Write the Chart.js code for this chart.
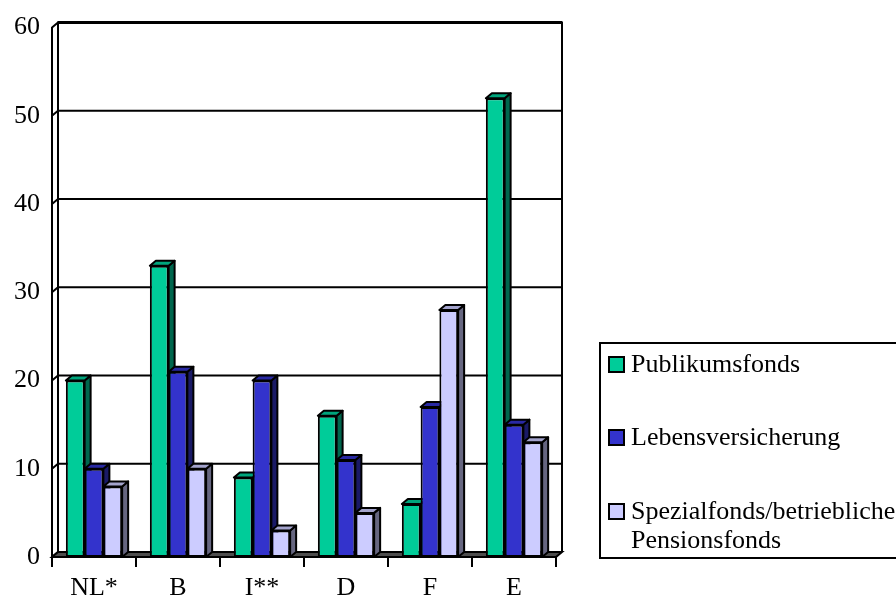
<!DOCTYPE html>
<html>
<head>
<meta charset="utf-8">
<script src="https://cdn.jsdelivr.net/npm/chart.js@4/dist/chart.umd.min.js"></script>
<style>
  html, body { margin: 0; padding: 0; background: #ffffff; }
  #wrap { width: 896px; height: 600px; position: relative; }
</style>
</head>
<body>
<div id="wrap"><canvas id="c" width="896" height="600"></canvas></div>
<script>
// Countries (x categories)
const categories = ['NL*', 'B', 'I**', 'D', 'F', 'E'];

// Series values per country
const publikumsfonds     = [20, 33, 9, 16, 6, 52];
const lebensversicherung = [10, 21, 20, 11, 17, 15];
const spezialfonds       = [8, 10, 3, 5, 28, 13];

// Series names (legend lines)
const seriesNames = [
  ['Publikumsfonds'],
  ['Lebensversicherung'],
  ['Spezialfonds/betriebliche', 'Pensionsfonds']
];

// Value axis ticks
const yTicks = [0, 10, 20, 30, 40, 50, 60];

const FONT = '"Liberation Serif", "Times New Roman", serif';
const FONT_SIZE = 26;
const DEPTH_X = 6, DEPTH_Y = 5;

// front, top and side colours for each series
const faceColors = [
  { front: '#00CC99', top: '#00A57C', side: '#00664D' },
  { front: '#3333CC', top: '#2929A3', side: '#1A1A66' },
  { front: '#CCCCFF', top: '#A3A3CC', side: '#666680' }
];

function poly(ctx, pts, fill) {
  ctx.beginPath();
  ctx.moveTo(pts[0][0], pts[0][1]);
  for (let i = 1; i < pts.length; i++) ctx.lineTo(pts[i][0], pts[i][1]);
  ctx.closePath();
  ctx.fillStyle = fill;
  ctx.fill();
  ctx.stroke();
}

// Back wall, side wall, floor and gridlines, then the extruded bars
const walls = {
  id: 'walls',
  beforeDatasetsDraw(chart) {
    const { ctx, chartArea: a, scales: { y } } = chart;
    ctx.save();
    ctx.strokeStyle = '#000';
    ctx.lineWidth = 2;
    // back wall
    ctx.fillStyle = '#fff';
    ctx.fillRect(a.left + DEPTH_X, a.top - DEPTH_Y, a.right - a.left, a.bottom - a.top);
    // gridlines on back and side wall
    yTicks.forEach(v => {
      const py = y.getPixelForValue(v);
      ctx.beginPath();
      ctx.moveTo(a.left, py);
      ctx.lineTo(a.left + DEPTH_X, py - DEPTH_Y);
      ctx.lineTo(a.right + DEPTH_X, py - DEPTH_Y);
      ctx.stroke();
    });
    // wall edges
    ctx.beginPath();
    ctx.moveTo(a.left + DEPTH_X, a.bottom - DEPTH_Y);
    ctx.lineTo(a.left + DEPTH_X, a.top - DEPTH_Y);
    ctx.lineTo(a.right + DEPTH_X, a.top - DEPTH_Y);
    ctx.lineTo(a.right + DEPTH_X, a.bottom - DEPTH_Y);
    ctx.stroke();
    ctx.lineWidth = 3;
    ctx.beginPath();
    ctx.moveTo(a.left + DEPTH_X, a.top - DEPTH_Y);
    ctx.lineTo(a.right + DEPTH_X, a.top - DEPTH_Y);
    ctx.stroke();
    ctx.lineWidth = 2;
    // floor
    poly(ctx, [
      [a.left, a.bottom], [a.left + DEPTH_X, a.bottom - DEPTH_Y],
      [a.right + DEPTH_X, a.bottom - DEPTH_Y], [a.right, a.bottom]
    ], '#4d4d4d');
    ctx.restore();

    // 3D bars: side and top faces, then the library's front face
    const metas = chart.data.datasets.map((d, i) => chart.getDatasetMeta(i));
    for (let c = 0; c < categories.length; c++) {
      metas.forEach((meta, d) => {
        const bar = meta.data[c];
        const p = bar.getProps(['x', 'y', 'base', 'width'], true);
        const l = p.x - p.width / 2, r = p.x + p.width / 2;
        const t = p.y, b = p.base;
        ctx.save();
        ctx.strokeStyle = '#000';
        ctx.lineWidth = 2;
        ctx.lineJoin = 'round';
        poly(ctx, [[r, t], [r + DEPTH_X, t - DEPTH_Y], [r + DEPTH_X, b - DEPTH_Y], [r, b]], faceColors[d].side);
        poly(ctx, [[l, t], [l + DEPTH_X, t - DEPTH_Y], [r + DEPTH_X, t - DEPTH_Y], [r, t]], faceColors[d].top);
        ctx.restore();
        bar.draw(ctx, a);
      });
    }
    return false;
  },
  afterDraw(chart) {
    const { ctx } = chart;
    // legend box
    ctx.save();
    ctx.strokeStyle = '#000';
    ctx.lineWidth = 2;
    ctx.strokeRect(600, 343, 320, 215);
    ctx.font = FONT_SIZE + 'px ' + FONT;
    ctx.textBaseline = 'middle';
    const rowY = [365, 438, 512];
    seriesNames.forEach((lines, i) => {
      ctx.fillStyle = faceColors[i].front;
      ctx.fillRect(609, rowY[i] - 8, 15, 15);
      ctx.strokeRect(609, rowY[i] - 8, 15, 15);
      ctx.fillStyle = '#000';
      lines.forEach((txt, k) => ctx.fillText(txt, 631, rowY[i] + k * 29));
    });
    ctx.restore();
  }
};

new Chart(document.getElementById('c'), {
  type: 'bar',
  data: {
    labels: categories,
    datasets: [publikumsfonds, lebensversicherung, spezialfonds].map((vals, i) => ({
      label: seriesNames[i].join(' '),
      data: vals,
      backgroundColor: faceColors[i].front,
      borderColor: '#000',
      borderWidth: 2,
      borderSkipped: false,
      categoryPercentage: 0.67,
      barPercentage: 1.0
    }))
  },
  options: {
    responsive: false,
    animation: false,
    devicePixelRatio: 1,
    layout: { padding: { top: 24, right: 340, left: 0, bottom: 0 } },
    plugins: { legend: { display: false }, tooltip: { enabled: false } },
    scales: {
      x: {
        grid: { display: true, offset: true, drawOnChartArea: false, drawTicks: true, tickLength: 10, color: '#000', lineWidth: 2 },
        border: { display: true, color: '#000', width: 2 },
        ticks: { color: '#000', font: { family: FONT, size: FONT_SIZE }, padding: 6 },
        afterFit(s) { s.height = 43; }
      },
      y: {
        min: 0, max: 60,
        afterBuildTicks(s) { s.ticks = yTicks.map(v => ({ value: v })); },
        grid: { display: false, drawTicks: false },
        border: { display: true, color: '#000', width: 2 },
        ticks: { color: '#000', font: { family: FONT, size: FONT_SIZE }, padding: 12 },
        afterFit(s) { s.width = 52; }
      }
    }
  },
  plugins: [walls]
});
</script>
</body>
</html>
